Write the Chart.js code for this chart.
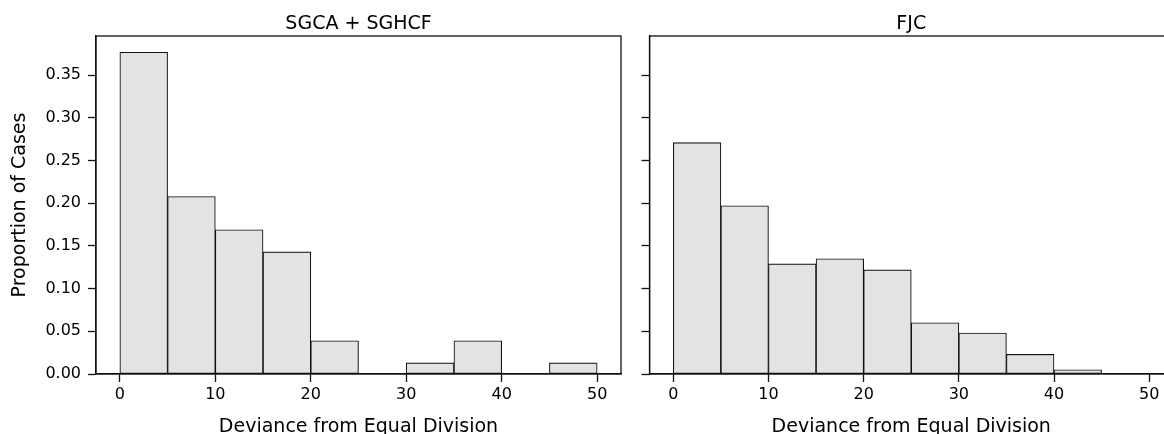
<!DOCTYPE html>
<html>
<head>
<meta charset="utf-8">
<script src="https://cdn.jsdelivr.net/npm/chart.js@4/dist/chart.umd.min.js"></script>
<style>
  html, body { margin: 0; padding: 0; background: #fff; overflow: hidden; }
  #wrap { width: 1164px; height: 434px; position: relative; overflow: hidden; }
  canvas { position: absolute; top: 0; }
  #left-chart { left: 0; }
  #right-chart { left: 640px; }
</style>
</head>
<body>
<div id="wrap">
  <canvas id="left-chart" width="640" height="434"></canvas>
  <canvas id="right-chart" width="540" height="434"></canvas>
</div>
<script>
// histogram bins (width 5) and shares
const binStarts = [0, 5, 10, 15, 20, 25, 30, 35, 40, 45];
const binWidth = 5;
const leftShares = [0.377, 0.208, 0.169, 0.143, 0.039, 0, 0.013, 0.039, 0, 0.013];
const rightShares = [0.271, 0.197, 0.129, 0.135, 0.122, 0.060, 0.048, 0.023, 0.005, 0];
const xTicks = [0, 10, 20, 30, 40, 50];
const yTicks = [0, 0.05, 0.10, 0.15, 0.20, 0.25, 0.30, 0.35];

Chart.defaults.font.family = "'DejaVu Sans', sans-serif";
Chart.defaults.font.size = 16;
Chart.defaults.color = "#000";

// matplotlib-like full box around the plot area
const frameBox = {
    id: "frameBox",
    afterDraw(chart) {
        const {ctx, chartArea: a} = chart;
        ctx.save();
        ctx.strokeStyle = "#111";
        ctx.lineWidth = 1.3;
        ctx.strokeRect(a.left, a.top, a.right - a.left, a.bottom - a.top);
        ctx.restore();
    }
};

function makeHist(canvasId, title, shares, showY, rightPad){
    const points = binStarts.map((b, i) => ({x: b + binWidth / 2, y: shares[i]}));

    return new Chart(document.getElementById(canvasId), {
        type: "bar",
        data: {
            datasets: [{
                data: points,
                backgroundColor: "#e3e3e3",
                borderColor: "#111",
                borderWidth: 1.1,
                borderSkipped: false,
                barPercentage: 1,
                categoryPercentage: 1
            }]
        },
        options: {
            responsive: false,
            animation: false,
            layout: { padding: { left: 0, right: rightPad, top: 0, bottom: 0 } },
            plugins: {
                legend: { display: false },
                tooltip: { enabled: false },
                title: {
                    display: true,
                    text: title,
                    fullSize: false,
                    color: "#000",
                    font: { size: 19, weight: "normal" },
                    padding: { top: 12.6, bottom: 0.6 }
                }
            },
            scales: {
                x: {
                    type: "linear",
                    min: -2.5,
                    max: 52.5,
                    offset: false,
                    afterBuildTicks: s => { s.ticks = xTicks.map(v => ({value: v})); },
                    afterFit: s => { s.height = 60; },
                    ticks: { padding: 3, maxRotation: 0, callback: v => String(v) },
                    grid: { offset: false, drawOnChartArea: false, drawTicks: true, tickLength: 8, tickWidth: 1.3, tickColor: "#111" },
                    border: { display: true, color: "#111", width: 1.3, z: 1 },
                    title: {
                        display: true,
                        text: "Deviance from Equal Division",
                        font: { size: 19 },
                        padding: { top: 4, bottom: -4 }
                    }
                },
                y: {
                    min: 0,
                    max: 0.396,
                    afterBuildTicks: s => { s.ticks = yTicks.map(v => ({value: v})); },
                    afterFit: s => { s.width = showY ? 96 : 9.5; },
                    ticks: { padding: 7, callback: v => showY ? v.toFixed(2) : "" },
                    grid: { drawOnChartArea: false, drawTicks: true, tickLength: 8, tickWidth: 1.3, tickColor: "#111" },
                    border: { display: true, color: "#111", width: 1.3, z: 1 },
                    title: {
                        display: showY,
                        text: "Proportion of Cases",
                        font: { size: 19 },
                        padding: { top: 8.6, bottom: 0 }
                    }
                }
            }
        },
        plugins: [frameBox]
    });
}

makeHist("left-chart", "SGCA + SGHCF", leftShares, true, 19);
makeHist("right-chart", "FJC", rightShares, false, 7);
</script>
</body>
</html>
